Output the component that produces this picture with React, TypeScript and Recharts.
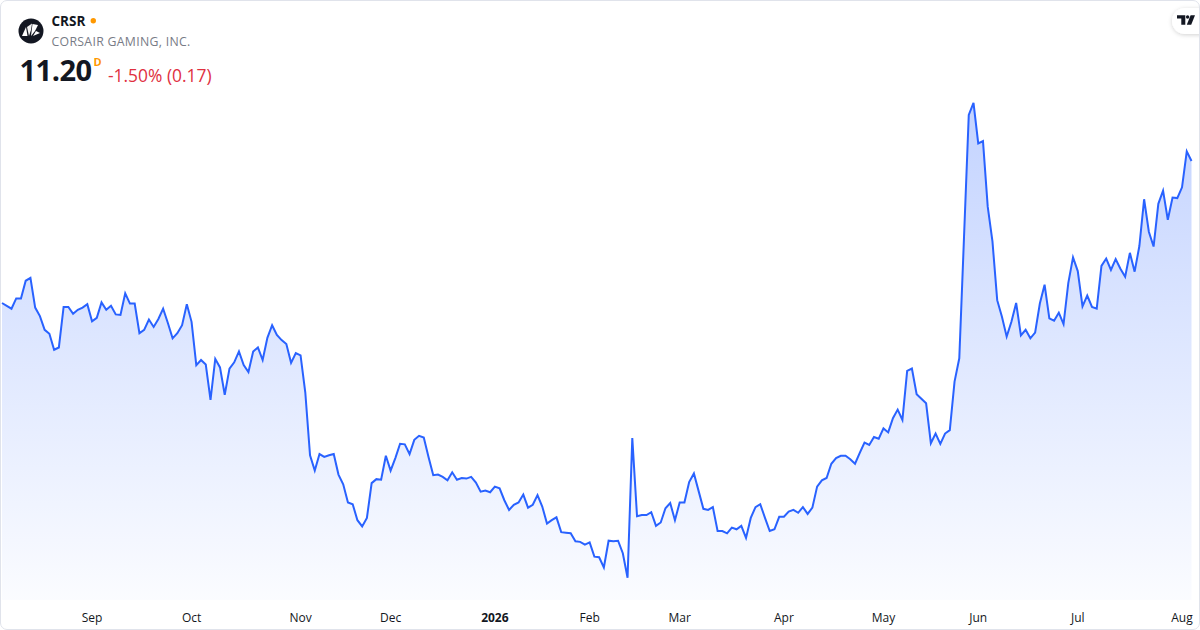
import React from 'react';
import { AreaChart, Area, XAxis, YAxis } from 'recharts';

// Daily closes (USD), one array per month
const aug2025 = [8.71, 8.66, 8.61, 8.79, 8.79, 9.10, 9.15, 8.63, 8.48, 8.24, 8.17, 7.89, 7.93, 8.64, 8.64, 8.52, 8.59, 8.63, 8.69];
const sep2025 = [8.39, 8.45, 8.72, 8.59, 8.66, 8.51, 8.50, 8.88, 8.70, 8.70, 8.18, 8.24, 8.42, 8.29, 8.43, 8.61, 8.36, 8.09, 8.18, 8.32, 8.69];
const oct2025 = [8.38, 7.62, 7.71, 7.63, 7.01, 7.73, 7.58, 7.10, 7.56, 7.67, 7.86, 7.62, 7.50, 7.86, 7.93, 7.71, 8.10, 8.32, 8.15, 8.06, 7.99, 7.66, 7.83];
const nov2025 = [7.79, 7.14, 6.04, 5.77, 6.06, 6.01, 6.04, 6.06, 5.70, 5.53, 5.21, 5.18, 4.90, 4.79, 4.94, 5.55, 5.62, 5.61, 6.03];
const dec2025 = [5.77, 5.99, 6.24, 6.23, 6.06, 6.31, 6.38, 6.35, 6.01, 5.69, 5.70, 5.66, 5.60, 5.74, 5.61, 5.64, 5.63, 5.66, 5.56, 5.40, 5.42, 5.39];
const jan2026 = [5.49, 5.46, 5.25, 5.08, 5.17, 5.21, 5.35, 5.12, 5.17, 5.34, 5.14, 4.84, 4.90, 4.95, 4.69, 4.68, 4.67, 4.53, 4.52, 4.47];
const feb2026 = [4.51, 4.26, 4.25, 4.07, 4.54, 4.53, 4.54, 4.32, 3.89, 6.34, 4.97, 4.99, 4.99, 5.04, 4.80, 4.86, 5.11, 5.20, 4.90];
const mar2026 = [5.21, 5.21, 5.57, 5.72, 5.41, 5.10, 5.08, 5.13, 4.71, 4.71, 4.67, 4.77, 4.74, 4.80, 4.59, 4.94, 5.13, 5.18, 4.94, 4.71, 4.74, 4.96];
const apr2026 = [4.96, 5.05, 5.08, 5.03, 5.13, 5.01, 5.12, 5.49, 5.60, 5.64, 5.89, 5.99, 6.03, 6.03, 5.97, 5.89, 6.08, 6.26, 6.22, 6.36, 6.33];
const may2026 = [6.51, 6.44, 6.69, 6.84, 6.66, 7.52, 7.56, 7.11, 7.03, 6.95, 6.25, 6.42, 6.24, 6.42, 6.48, 7.33, 7.74, 9.87, 12.01, 12.22];
const jun2026 = [11.51, 11.55, 10.40, 9.79, 8.76, 8.47, 8.12, 8.38, 8.71, 8.14, 8.24, 8.09, 8.19, 8.70, 9.03, 8.44, 8.40, 8.54, 8.34, 9.06, 9.51];
const jul2026 = [9.27, 8.65, 8.84, 8.64, 8.61, 9.36, 9.49, 9.29, 9.48, 9.31, 9.17, 9.59, 9.26, 9.71, 10.53, 9.96, 9.70, 10.45, 10.68, 10.17, 10.56, 10.55];
const aug2026 = [10.74, 11.37, 11.20];

const monthSeries = [aug2025, sep2025, oct2025, nov2025, dec2025, jan2026, feb2026, mar2026, apr2026, may2026, jun2026, jul2026, aug2026];

// Calendar: first session and NYSE holidays in the window
const firstSession = '2025-08-05';
const marketHolidays = [
  '2025-09-01', '2025-11-27', '2025-12-25', '2026-01-01', '2026-01-19',
  '2026-02-16', '2026-04-03', '2026-05-25', '2026-06-19', '2026-07-03',
];
const monthLabels = ['Jan', 'Feb', 'Mar', 'Apr', 'May', 'Jun', 'Jul', 'Aug', 'Sep', 'Oct', 'Nov', 'Dec'];

// Header texts
const ticker = 'CRSR';
const companyName = 'CORSAIR GAMING, INC.';
const lastPrice = '11.20';
const changeText = '-1.50% (0.17)';

const closes: number[] = ([] as number[]).concat(...monthSeries);

function sessions(start: string, count: number): string[] {
  const out: string[] = [];
  const d = new Date(start + 'T00:00:00Z');
  while (out.length < count) {
    const iso = d.toISOString().slice(0, 10);
    const wd = d.getUTCDay();
    if (wd !== 0 && wd !== 6 && !marketHolidays.includes(iso)) out.push(iso);
    d.setUTCDate(d.getUTCDate() + 1);
  }
  return out;
}

const dates = sessions(firstSession, closes.length);
const data = dates.map((date, i) => ({ date, close: closes[i] }));

const monthTicks: string[] = dates.filter((d, i) => i > 0 && d.slice(0, 7) !== dates[i - 1].slice(0, 7));

function tickLabel(d: string): string {
  const m = parseInt(d.slice(5, 7), 10);
  return m === 1 ? d.slice(0, 4) : monthLabels[m - 1];
}

const FONT = '"Open Sans", "Noto Sans", Roboto, sans-serif';

const MonthTick = (props: any) => {
  const { x, y, payload } = props;
  const label = tickLabel(payload.value);
  const isYear = /^\d{4}$/.test(label);
  return (
    <text x={x} y={y} dy={21.5} textAnchor="middle" fontSize={12} fontFamily={FONT}
      fill="#131722" fontWeight={isYear ? 700 : 400}>
      {label}
    </text>
  );
};

export default function App() {
  return (
    <div style={{ position: 'absolute', left: 0, top: 0, width: 1200, height: 630, background: '#ffffff', overflow: 'hidden', fontFamily: FONT }}>
      <div style={{ position: 'absolute', left: 0, top: 0 }}>
        <AreaChart width={1200} height={630} data={data} margin={{ top: 10, right: 8.5, bottom: 0, left: 2 }}>
          <defs>
            <linearGradient id="crsrFill" x1="0" y1="0" x2="0" y2="1">
              <stop offset="0%" stopColor="#2962FF" stopOpacity={0.28} />
              <stop offset="100%" stopColor="#2962FF" stopOpacity={0.02} />
            </linearGradient>
          </defs>
          <XAxis dataKey="date" ticks={monthTicks} interval={0} axisLine={false} tickLine={false}
            tickSize={0} tickMargin={0} height={30} tick={<MonthTick />} />
          <YAxis hide domain={[3.5, 13.85]} allowDataOverflow />
          <Area type="linear" dataKey="close" stroke="#2962FF" strokeWidth={2} fill="url(#crsrFill)"
            fillOpacity={1} dot={false} activeDot={false} isAnimationActive={false} />
        </AreaChart>
      </div>

      <svg width={1200} height={100} style={{ position: 'absolute', left: 0, top: 0 }}>
        <defs>
          <filter id="pillShadow" x="-50%" y="-50%" width="200%" height="200%">
            <feDropShadow dx="0" dy="1" stdDeviation="2" floodColor="#000" floodOpacity="0.18" />
          </filter>
        </defs>
        {/* company logo */}
        <circle cx={31} cy={31} r={12.5} fill="#131722" />
        <path d="M22 36 L26 27 L27.5 36 Z" fill="#ffffff" />
        <path d="M27 27 L32 23.5 L31 30 L29 36 Z" fill="#ffffff" opacity={0.95} />
        <path d="M32.5 24 L38 25 L35 31 L31 36 Z" fill="#ffffff" />
        <path d="M36 31 L40 33 L33 36 Z" fill="#ffffff" />
        <text x={51.5} y={26} fontSize={13.5} fontWeight={700} fill="#131722" fontFamily={FONT}>{ticker}</text>
        <circle cx={93.3} cy={20.8} r={2.7} fill="#FF9800" />
        <text x={51.5} y={45.7} fontSize={12.3} fill="#787B86" fontFamily={FONT} letterSpacing={0.3}>{companyName}</text>
        <text x={19.5} y={81} fontSize={29} fontWeight={700} fill="#131722" fontFamily={FONT} letterSpacing={-0.5}>{lastPrice}</text>
        <text x={93.5} y={65.5} fontSize={11} fontWeight={700} fill="#FF9800" fontFamily={FONT}>D</text>
        <text x={108} y={81.5} fontSize={17.4} fill="#E0303F" fontFamily={FONT}>{changeText}</text>
        {/* TradingView badge */}
        <rect x={1172} y={8} width={44} height={26} rx={13} fill="#ffffff" filter="url(#pillShadow)" />
        <path d="M1177 15.3 H1185.3 V24.7 H1181.3 V18.6 H1177 Z" fill="#131722" />
        <circle cx={1187.6} cy={17} r={1.7} fill="#131722" />
        <path d="M1190.6 15.3 H1195 L1191.2 24.7 H1186.8 Z" fill="#131722" />
      </svg>

      <div style={{ position: 'absolute', left: 0, top: 0, width: 1200, height: 630, boxSizing: 'border-box', border: '1px solid #E0E3EB', borderRadius: 7, pointerEvents: 'none' }} />
    </div>
  );
}
